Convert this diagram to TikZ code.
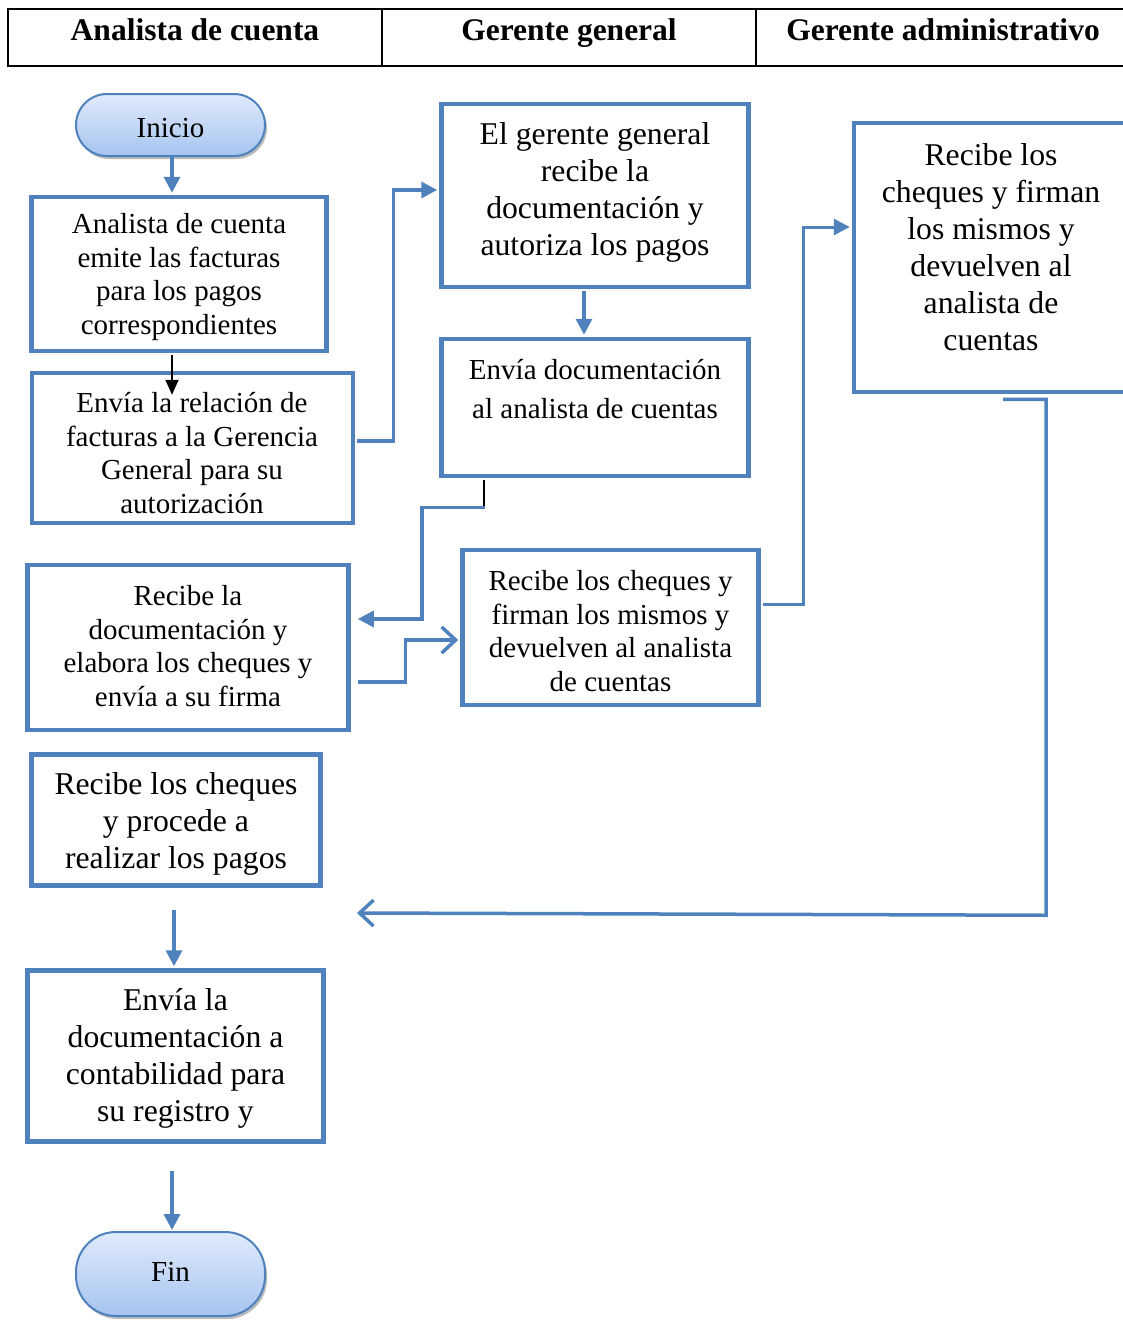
\documentclass[tikz,border=0pt]{standalone}
\usepackage{fontspec}
\setmainfont{Liberation Serif}
\usetikzlibrary{arrows.meta,calc,shadows}
\definecolor{boxblue}{RGB}{79,129,189}
\definecolor{termtop}{RGB}{224,234,251}
\definecolor{termbot}{RGB}{166,196,240}
\tikzset{
  stepbox/.style={draw=boxblue, line width=4.5pt, fill=white, rectangle, inner sep=0pt},
  termbox/.style={draw=boxblue, line width=2pt, rectangle, rounded corners=31pt, top color=termtop, bottom color=termbot,
     drop shadow={shadow xshift=2pt, shadow yshift=-3pt, opacity=0.45, fill=black!60}},
  smalltxt/.style={align=center, inner sep=0pt, font=\fontsize{29}{33.7}\selectfont},
  largetxt/.style={align=center, inner sep=0pt, font=\fontsize{31.7}{37}\selectfont},
  headtxt/.style={anchor=base, inner sep=0pt, font=\bfseries\fontsize{31.5}{36}\selectfont},
  conn/.style={draw=boxblue, line width=3.5pt, -{Triangle[length=16pt,width=16pt]}},
  openconn/.style={draw=boxblue, line width=3.5pt, -{Straight Barb[length=14pt,width=26pt,line width=3.5pt]}},
  blkconn/.style={draw=black, line width=1.8pt, -{Triangle[length=15pt,width=13pt]}},
  blkline/.style={draw=black, line width=1.8pt},
}
\begin{document}
\begin{tikzpicture}[x=1pt,y=-1pt]
\useasboundingbox (0,0) rectangle (1123,1320);
% header
\draw[line width=2pt] (8,9) rectangle (1140,66);
\draw[line width=2pt] (382,9) -- (382,66);
\draw[line width=2pt] (756,9) -- (756,66);
\node[headtxt] (h1) at (195,40) {Analista de cuenta};
\node[headtxt] (h2) at (569,40) {Gerente general};
\node[headtxt] (h3) at (943,40) {Gerente administrativo};

% terminators
\node[termbox, minimum width=189pt, minimum height=62pt] (ini) at (170.5,125) {};
\node[smalltxt] (initxt) at (170.5,128) {Inicio};
\node[termbox, rounded corners=40pt, minimum width=189pt, minimum height=84pt] (fin) at (170.5,1274) {};
\node[smalltxt] (fintxt) at (170.5,1272) {Fin};

% boxes
\node[stepbox, minimum width=295pt, minimum height=154pt] (b1) at (179,274) {};
\node[smalltxt] (t1) at (179,277) {Analista de cuenta\\emite las facturas\\para los pagos\\correspondientes};
\node[stepbox, minimum width=321pt, minimum height=150pt] (b2) at (192.5,448) {};
\node[smalltxt] (t2) at (192,453) {Envía la relación de\\facturas a la Gerencia\\General para su\\autorización};
\node[stepbox, minimum width=307pt, minimum height=183pt] (b3) at (595,195.5) {};
\node[largetxt] (t3) at (595,192) {El gerente general\\recibe la\\documentación y\\autoriza los pagos};
\node[stepbox, minimum width=307pt, minimum height=137pt] (b4) at (595,407.5) {};
\node[align=center, inner sep=0pt, font=\fontsize{29}{39}\selectfont] (t4) at (595,389) {Envía documentación\\al analista de cuentas};
\node[stepbox, minimum width=274pt, minimum height=269pt] (b5) at (991,257.5) {};
\node[largetxt] (t5) at (991,247) {Recibe los\\cheques y firman\\los mismos y\\devuelven al\\analista de\\cuentas};
\node[stepbox, minimum width=321pt, minimum height=165pt] (b6) at (188,647.5) {};
\node[smalltxt] (t6) at (188,646) {Recibe la\\documentación y\\elabora los cheques y\\envía a su firma};
\node[stepbox, minimum width=296pt, minimum height=155pt] (b7) at (610.5,627.5) {};
\node[smalltxt] (t7) at (610.5,631) {Recibe los cheques y\\firman los mismos y\\devuelven al analista\\de cuentas};
\node[stepbox, minimum width=289pt, minimum height=131pt] (b8) at (176,820) {};
\node[largetxt] (t8) at (176,824) {Recibe los cheques\\y procede a\\realizar los pagos};
\node[stepbox, minimum width=296pt, minimum height=171pt] (b9) at (175.5,1056) {};
\node[largetxt] (t9) at (175.5,1058) {Envía la\\documentación a\\contabilidad para\\su registro y};

\coordinate (rtn) at (357,913);

% connectors
\draw[conn] ($(ini.south)+(1.5,0)$) -- ($(b1.north)+(-7,-2)$);
\draw[blkconn] ($(b1.south)+(-7,2)$) -- ($(b2.north)+(-20.5,24)$);
\draw[conn] ($(b2.east)+(2,-7)$) -| ($(b3.west)+(-46,-5.5)$) -- ($(b3.west)+(-2,-5.5)$);
\draw[conn] ($(b3.south)+(-11,2)$) -- ($(b4.north)+(-11,-2)$);
\draw[blkline] ($(b4.south)+(-111,2)$) -- ($(b4.south)+(-111,29)$) coordinate (k2);
\draw[conn] ($(k2)+(1,0)$) -| ($(b6.east)+(71,-28.5)$) -- ($(b6.east)+(7,-28.5)$);
\draw[openconn] ($(b6.east)+(7,34.5)$) -| ($(b7.west)+(-55,12.5)$) -- ($(b7.west)+(-2,12.5)$);
\draw[conn, line width=3pt] ($(b7.east)+(2,-23.5)$) -| ($(b5.west)+(-48,-30.5)$) -- ($(b5.west)+(-2,-30.5)$);
\draw[openconn] ($(b5.south)+(12,5)$) -| ($(b5.south)+(55,521)$) -- (rtn);
\draw[conn] ($(b8.south)+(-2,22)$) -- ($(b9.north)+(-1.5,-2)$);
\draw[conn] ($(b9.south)+(-3.5,27)$) -- ($(fin.north)+(1.5,-1)$);
\end{tikzpicture}
\end{document}
